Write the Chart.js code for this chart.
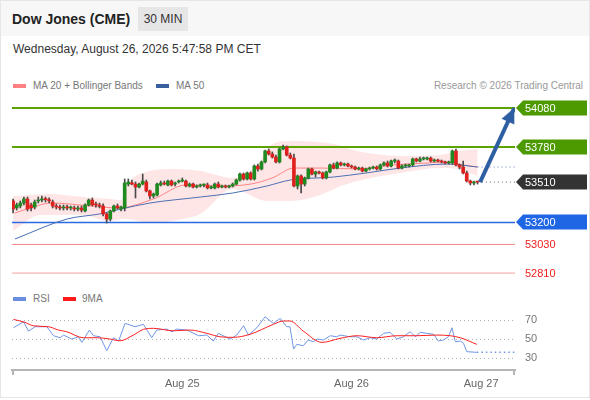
<!DOCTYPE html>
<html>
<head>
<meta charset="utf-8">
<script src="https://cdn.jsdelivr.net/npm/chart.js@4.4.1/dist/chart.umd.min.js"></script>
<style>
body { margin: 0; width: 590px; height: 400px; position: relative; overflow: hidden; background: #fff; font-family: "Liberation Sans", Arial, sans-serif; }
#frame { position: absolute; left: 0; top: 0; width: 588px; height: 396px; border: 1px solid #e6e6e6; }
#head { position: absolute; left: 1px; top: 1px; width: 588px; height: 35px; background: #f7f7f7; }
#title { position: absolute; left: 12px; top: 11px; line-height: 16px; font-size: 14px; font-weight: bold; color: #222; }
#tf { position: absolute; left: 138px; top: 7px; width: 50px; height: 24px; line-height: 24px; text-align: center; background: #e6e6e6; font-size: 12px; color: #333; }
#date { position: absolute; left: 13px; top: 42px; line-height: 14px; font-size: 12px; color: #333; }
.leg { position: absolute; font-size: 10px; line-height: 12px; color: #777; }
.sw { position: absolute; width: 13px; height: 4px; }
canvas { position: absolute; left: 0; }
</style>
</head>
<body>
<div id="frame"></div>
<div id="head"></div>
<div id="title">Dow Jones (CME)</div>
<div id="tf">30 MIN</div>
<div id="date">Wednesday, August 26, 2026 5:47:58 PM CET</div>

<div class="sw" style="left:13px;top:84px;background:#ff8080"></div>
<div class="leg" style="left:33px;top:80px">MA 20 + Bollinger Bands</div>
<div class="sw" style="left:156px;top:84px;background:#3a5f9e"></div>
<div class="leg" style="left:176px;top:80px">MA 50</div>
<div class="leg" style="right:7px;top:80px;color:#999">Research © 2026 Trading Central</div>

<div class="sw" style="left:13px;top:297px;background:#6a8fe0"></div>
<div class="leg" style="left:33px;top:293px">RSI</div>
<div class="sw" style="left:63px;top:297px;background:#ff1a1a"></div>
<div class="leg" style="left:82px;top:293px">9MA</div>

<canvas id="price" width="590" height="190" style="top:96px"></canvas>
<canvas id="rsi" width="590" height="90" style="top:305px"></canvas>

<script>
// 30 min candles, index 0 = first candle on screen
var candleOpen = [
    53365, 53311, 53326, 53349, 53380, 53334, 53318, 53365, 53372, 53380,
    53375, 53357, 53326, 53318, 53311, 53318, 53311, 53311, 53303, 53311,
    53288, 53334, 53372, 53342, 53334, 53326, 53265, 53226, 53288, 53326,
    53303, 53311, 53495, 53505, 53495, 53472, 53495, 53511, 53442, 53403,
    53411, 53488, 53503, 53488, 53518, 53495, 53511, 53518, 53518, 53480,
    53495, 53472, 53480, 53488, 53488, 53465, 53465, 53495, 53472, 53480,
    53472, 53480, 53495, 53526, 53572, 53534, 53580, 53534, 53634, 53611,
    53665, 53749, 53726, 53703, 53665, 53765, 53780, 53718, 53695, 53480,
    53557, 53495, 53542, 53611, 53572, 53588, 53580, 53542, 53588, 53642,
    53618, 53657, 53642, 53649, 53634, 53626, 53611, 53618, 53595, 53611,
    53618, 53626, 53611, 53642, 53657, 53634, 53672, 53672, 53618, 53634,
    53634, 53642, 53688, 53672, 53688, 53688, 53695, 53672, 53680, 53672,
    53665, 53657, 53657, 53749, 53642, 53626, 53580, 53518, 53503, 53511
];
var candleHigh = [
    53380, 53349, 53365, 53395, 53395, 53349, 53372, 53395, 53403, 53395,
    53388, 53372, 53342, 53334, 53334, 53334, 53326, 53326, 53326, 53326,
    53342, 53380, 53388, 53357, 53349, 53342, 53272, 53295, 53334, 53342,
    53326, 53534, 53534, 53526, 53511, 53503, 53572, 53526, 53449, 53426,
    53503, 53518, 53518, 53526, 53526, 53511, 53526, 53542, 53526, 53503,
    53503, 53488, 53495, 53495, 53503, 53480, 53503, 53511, 53488, 53488,
    53488, 53503, 53534, 53580, 53580, 53588, 53588, 53642, 53649, 53672,
    53757, 53765, 53742, 53718, 53772, 53795, 53788, 53734, 53726, 53565,
    53565, 53549, 53618, 53618, 53595, 53595, 53588, 53595, 53649, 53657,
    53665, 53665, 53657, 53657, 53642, 53634, 53626, 53626, 53618, 53626,
    53634, 53634, 53649, 53665, 53672, 53680, 53688, 53680, 53642, 53649,
    53649, 53695, 53695, 53703, 53703, 53703, 53703, 53688, 53688, 53680,
    53672, 53672, 53757, 53765, 53649, 53672, 53595, 53526, 53518, 53518
];
var candleLow = [
    53272, 53295, 53311, 53334, 53288, 53288, 53303, 53349, 53357, 53357,
    53349, 53311, 53303, 53295, 53295, 53295, 53295, 53288, 53288, 53280,
    53280, 53326, 53326, 53318, 53311, 53249, 53195, 53211, 53280, 53303,
    53288, 53288, 53480, 53488, 53388, 53465, 53488, 53434, 53380, 53388,
    53403, 53480, 53488, 53480, 53480, 53480, 53503, 53511, 53472, 53472,
    53465, 53465, 53472, 53472, 53457, 53457, 53457, 53465, 53465, 53465,
    53465, 53472, 53488, 53518, 53526, 53526, 53526, 53526, 53595, 53603,
    53657, 53718, 53695, 53657, 53657, 53757, 53711, 53688, 53472, 53457,
    53426, 53480, 53534, 53565, 53549, 53572, 53534, 53534, 53580, 53611,
    53611, 53634, 53634, 53626, 53618, 53603, 53603, 53588, 53588, 53603,
    53611, 53603, 53603, 53634, 53626, 53626, 53657, 53611, 53611, 53626,
    53626, 53634, 53665, 53665, 53680, 53680, 53665, 53665, 53665, 53657,
    53649, 53649, 53649, 53634, 53611, 53572, 53511, 53488, 53488, 53495
];
var candleClose = [
    53303, 53334, 53349, 53380, 53303, 53311, 53357, 53372, 53380, 53375,
    53365, 53326, 53318, 53311, 53318, 53311, 53311, 53303, 53311, 53295,
    53334, 53372, 53334, 53334, 53326, 53265, 53226, 53288, 53326, 53311,
    53318, 53503, 53510, 53495, 53472, 53495, 53518, 53442, 53403, 53419,
    53495, 53503, 53495, 53518, 53488, 53503, 53518, 53526, 53480, 53495,
    53472, 53480, 53488, 53488, 53465, 53465, 53495, 53472, 53480, 53472,
    53480, 53495, 53526, 53572, 53534, 53580, 53534, 53634, 53611, 53665,
    53749, 53726, 53703, 53665, 53765, 53780, 53718, 53695, 53480, 53557,
    53495, 53542, 53611, 53572, 53588, 53580, 53542, 53588, 53642, 53618,
    53657, 53642, 53649, 53634, 53626, 53611, 53618, 53595, 53611, 53618,
    53626, 53611, 53642, 53657, 53634, 53672, 53672, 53618, 53634, 53634,
    53642, 53688, 53672, 53688, 53688, 53695, 53672, 53680, 53672, 53665,
    53657, 53657, 53749, 53642, 53626, 53580, 53518, 53503, 53511, 53510
];

// indicator lines (candle index, value)
var ma20Idx = [0.5, 5.5, 10.5, 21.7, 29, 39, 48, 57.5, 66, 72, 78, 86, 96, 105.5, 115, 120.5, 125, 129];
var ma20Val = [53272, 53318, 53349, 53326, 53311, 53380, 53488, 53480, 53495, 53542, 53618, 53618, 53611, 53642, 53657, 53665, 53642, 53626];
var ma50Idx = [0.5, 15, 24, 30, 38, 52, 61, 70.5, 77, 89, 98, 107.5, 120.5, 129];
var ma50Val = [53072, 53226, 53265, 53303, 53349, 53395, 53426, 53480, 53526, 53549, 53580, 53618, 53649, 53626];
var upperIdx = [0, 10, 19.5, 27, 30, 32.5, 36, 43, 52, 61, 68, 72, 77, 89, 95.5, 107.5, 118.5, 123.5, 129];
var upperVal = [53403, 53419, 53395, 53380, 53372, 53518, 53580, 53611, 53595, 53542, 53649, 53803, 53826, 53803, 53749, 53711, 53718, 53749, 53765];
var lowerIdx = [0, 7.5, 19.5, 26, 31.5, 38, 47, 52, 61, 70.5, 77, 84.5, 91, 98, 107.5, 118.5, 123.5, 129];
var lowerVal = [53134, 53257, 53257, 53211, 53226, 53195, 53226, 53265, 53457, 53365, 53365, 53403, 53480, 53534, 53580, 53618, 53611, 53557];

var levelValues = [54080, 53780, 53510, 53200, 53030, 52810];
var arrowIdx = [129.7, 139.2];
var arrowVal = [53510, 54080];

var rsiIdx = [0.1, 2.9, 4.3, 6.1, 9.4, 11.2, 13.1, 14, 16.3, 18.1, 19.1, 21.2, 22.3, 24.2, 26, 27.9, 29.3, 31.1, 33.9, 36.2,
    38.5, 39.9, 42.7, 44.1, 45.5, 48.3, 51.5, 53.8, 55.6, 57, 60.3, 62.1, 64, 65.4, 67.7, 70, 72.3, 74.2, 76, 76.9,
    77.9, 78.8, 80.6, 82, 83.4, 84.4, 86.2, 88.1, 89.9, 90.8, 93.6, 95.5, 97.3, 99.2, 101, 102.9, 104.7, 106.6, 108.4, 110.3,
    111.7, 113.1, 114.9, 116.8, 118.1, 119.5, 120.9, 121.9, 122.8, 124.2, 125.1, 126, 128.8];
var rsiVal = [62.2, 68.5, 58.7, 63.3, 63.3, 53.8, 51.7, 54.5, 50.3, 52.7, 46.8, 59.8, 53.8, 52.7, 38, 51.7, 48.2, 66.8, 63.3, 65.8,
    51.7, 59.8, 60.8, 58, 60.8, 59.8, 53.8, 54.5, 48.2, 56.3, 50.3, 54.5, 64.3, 54.5, 62.2, 73.8, 66.8, 72.1, 63.3, 63.3,
    39.8, 44.7, 43.3, 49.3, 47.5, 50.3, 49.3, 53.8, 52.7, 54.5, 52.7, 52.7, 49.3, 51.7, 50.3, 56.3, 57.4, 50.3, 52.7, 58,
    52.7, 57.4, 56.3, 55.3, 48.2, 49.3, 52.7, 62.2, 47.5, 48.2, 45.8, 37, 36.3];
var rsi9Idx = [0.1, 3.3, 5.6, 9.8, 12.6, 14.9, 19.5, 23.3, 26.9, 29.7, 33.4, 36.2, 39, 44.5, 49.2, 53.8, 57.5, 61.2, 65.8, 72.3,
    75.1, 76.9, 80.6, 85.8, 90.8, 95.5, 101, 106.6, 112.1, 117.7, 121.4, 124.2, 128.8];
var rsi9Val = [71, 67.9, 64.3, 63.3, 59.8, 58, 51.7, 51.7, 50.3, 48.5, 54.5, 60.5, 61.6, 59, 59.8, 56.3, 52.7, 52.1, 55.3, 65.8,
    69.3, 69.3, 58.7, 46.8, 51, 53.8, 51.7, 53.8, 53.8, 54.5, 53.8, 51.7, 44.7];
var rsiTicks = [30, 50, 70];

var dateTickIdx = [47, 94, 130];
var dateTickLbl = ['Aug 25', 'Aug 26', 'Aug 27'];

// view window on the index axis
var xMin = -0.3;
var xMax = 139.4;

var levelStyle = [
    { line: '#5aa300', width: 2, tag: '#4d9a00', text: '#fff' },
    { line: '#5aa300', width: 2, tag: '#4d9a00', text: '#fff' },
    { line: null, width: 0, tag: '#333333', text: '#fff' },
    { line: '#2a6ae0', width: 1.5, tag: '#1f66e5', text: '#fff' },
    { line: '#f28a8a', width: 1, tag: null, text: '#f01c1c' },
    { line: '#f6a0a0', width: 1, tag: null, text: '#f01c1c' }
];

function pts(xs, ys) {
    return xs.map(function (x, k) { return { x: x, y: ys[k] }; });
}

var last = candleClose.length - 1;
var lastClose = candleClose[last];

var datasets = [];
datasets.push({
    type: 'line', id: 'upper', data: pts(upperIdx, upperVal),
    borderWidth: 0, borderColor: 'rgba(0,0,0,0)', pointRadius: 0,
    cubicInterpolationMode: 'monotone',
    fill: '+1', backgroundColor: 'rgba(255,150,150,0.24)', order: 20
});
datasets.push({
    type: 'line', data: pts(lowerIdx, lowerVal),
    borderWidth: 0, borderColor: 'rgba(0,0,0,0)', pointRadius: 0,
    cubicInterpolationMode: 'monotone', fill: false, order: 21
});
levelValues.forEach(function (v, k) {
    if (!levelStyle[k].line) return;
    datasets.push({
        type: 'line', data: [{ x: xMin, y: v }, { x: xMax, y: v }],
        borderColor: levelStyle[k].line, borderWidth: levelStyle[k].width,
        pointRadius: 0, fill: false, order: 15
    });
});
// dotted continuation of the last close and MA 50
datasets.push({
    type: 'line', data: [{ x: last + 1.2, y: lastClose }, { x: xMax, y: lastClose }],
    borderColor: '#666', borderWidth: 1, borderDash: [1, 3], pointRadius: 0, fill: false, order: 14
});
datasets.push({
    type: 'line', data: [{ x: ma50Idx[ma50Idx.length - 1], y: ma50Val[ma50Val.length - 1] }, { x: xMax, y: ma50Val[ma50Val.length - 1] }],
    borderColor: '#5b7fc0', borderWidth: 1, borderDash: [1, 3], pointRadius: 0, fill: false, order: 14
});
datasets.push({
    type: 'line', data: pts(ma20Idx, ma20Val), borderColor: 'rgba(255,100,100,0.75)', borderWidth: 1,
    pointRadius: 0, cubicInterpolationMode: 'monotone', fill: false, order: 5
});
datasets.push({
    type: 'line', data: pts(ma50Idx, ma50Val), borderColor: '#4a6fb3', borderWidth: 1,
    pointRadius: 0, cubicInterpolationMode: 'monotone', fill: false, order: 4
});
datasets.push({
    type: 'bar', grouped: false, barThickness: 1, order: 3,
    data: candleHigh.map(function (h, i) { return { x: i, y: [candleLow[i], h] }; }),
    backgroundColor: '#4a4a4a'
});
datasets.push({
    type: 'bar', grouped: false, barThickness: 3, minBarLength: 1, order: 2,
    data: candleOpen.map(function (o, i) { return { x: i, y: [o, candleClose[i]] }; }),
    backgroundColor: candleOpen.map(function (o, i) { return candleClose[i] >= o ? '#1f8a1f' : '#e0201c'; })
});
datasets.push({
    type: 'line', id: 'arrow', data: pts(arrowIdx, arrowVal), borderColor: '#2f5fa3', borderWidth: 4,
    pointRadius: 0, fill: false, order: 0
});

var arrowHead = {
    id: 'arrowHead',
    afterDatasetsDraw: function (chart) {
        var k = chart.data.datasets.findIndex(function (d) { return d.id === 'arrow'; });
        var p = chart.getDatasetMeta(k).data;
        var a = p[p.length - 2], b = p[p.length - 1];
        var ang = Math.atan2(b.y - a.y, b.x - a.x);
        var len = 15, half = 7;
        var ctx = chart.ctx;
        ctx.save();
        ctx.fillStyle = '#2f5fa3';
        ctx.beginPath();
        ctx.moveTo(b.x, b.y);
        ctx.lineTo(b.x - len * Math.cos(ang) + half * Math.sin(ang), b.y - len * Math.sin(ang) - half * Math.cos(ang));
        ctx.lineTo(b.x - len * Math.cos(ang) - half * Math.sin(ang), b.y - len * Math.sin(ang) + half * Math.cos(ang));
        ctx.closePath();
        ctx.fill();
        ctx.restore();
    }
};

var levelTags = {
    id: 'levelTags',
    afterDraw: function (chart) {
        var ctx = chart.ctx;
        var x0 = chart.chartArea.right;
        ctx.save();
        ctx.font = '11px "Liberation Sans", Arial, sans-serif';
        ctx.textBaseline = 'middle';
        levelValues.forEach(function (v, k) {
            var y = Math.round(chart.scales.y.getPixelForValue(v));
            var st = levelStyle[k];
            if (st.tag) {
                ctx.fillStyle = st.tag;
                ctx.beginPath();
                ctx.moveTo(x0 + 1, y);
                ctx.lineTo(x0 + 8, y - 7.5);
                ctx.lineTo(x0 + 72, y - 7.5);
                ctx.lineTo(x0 + 72, y + 7.5);
                ctx.lineTo(x0 + 8, y + 7.5);
                ctx.closePath();
                ctx.fill();
            }
            ctx.fillStyle = st.text;
            ctx.fillText(String(v), x0 + 10, y + 0.5);
        });
        ctx.restore();
    }
};

new Chart(document.getElementById('price'), {
    type: 'bar',
    data: { datasets: datasets },
    options: {
        responsive: false,
        animation: false,
        layout: { autoPadding: false, padding: { left: 12, right: 75, top: 5, bottom: 5 } },
        plugins: { legend: { display: false }, tooltip: { enabled: false } },
        scales: {
            x: { type: 'linear', min: xMin, max: xMax, offset: false, display: false },
            y: { type: 'linear', min: 52749, max: 54134, display: false }
        }
    },
    plugins: [arrowHead, levelTags]
});

var axisCaps = {
    id: 'axisCaps',
    afterDraw: function (chart) {
        var ctx = chart.ctx, a = chart.chartArea;
        ctx.save();
        ctx.strokeStyle = '#b5b5b5';
        ctx.lineWidth = 2;
        ctx.beginPath();
        ctx.moveTo(a.left + 1, a.bottom);
        ctx.lineTo(a.left + 1, a.bottom + 5);
        ctx.moveTo(a.right - 1, a.bottom);
        ctx.lineTo(a.right - 1, a.bottom + 5);
        ctx.stroke();
        ctx.restore();
    }
};

new Chart(document.getElementById('rsi'), {
    type: 'line',
    data: {
        datasets: [
            {
                data: pts(rsi9Idx, rsi9Val), borderColor: '#ff2020', borderWidth: 1,
                pointRadius: 0, cubicInterpolationMode: 'monotone', fill: false
            },
            {
                data: pts(rsiIdx, rsiVal), borderColor: '#7196e6', borderWidth: 1,
                pointRadius: 0, tension: 0, fill: false
            },
            {
                data: [{ x: rsiIdx[rsiIdx.length - 1], y: rsiVal[rsiVal.length - 1] }, { x: xMax, y: rsiVal[rsiVal.length - 1] }],
                borderColor: '#7196e6', borderWidth: 1.5, borderDash: [1.5, 3], pointRadius: 0, fill: false
            }
        ]
    },
    options: {
        responsive: false,
        animation: false,
        layout: { autoPadding: false, padding: { left: 12, right: 0, top: 7, bottom: 0 } },
        plugins: { legend: { display: false }, tooltip: { enabled: false } },
        scales: {
            x: {
                type: 'linear', min: xMin, max: xMax,
                afterFit: function (s) { s.height = 25; },
                afterBuildTicks: function (s) { s.ticks = dateTickIdx.map(function (v) { return { value: v }; }); },
                ticks: {
                    color: '#666', padding: 7, maxRotation: 0, autoSkip: false,
                    font: { size: 11, family: '"Liberation Sans", Arial, sans-serif' },
                    callback: function (v) { return dateTickLbl[dateTickIdx.indexOf(v)]; }
                },
                grid: { display: false, drawTicks: false },
                border: { display: true, color: '#b5b5b5', width: 2 }
            },
            y: {
                position: 'right', min: 17.7, max: 78.8,
                afterFit: function (s) { s.width = 75; },
                afterBuildTicks: function (s) { s.ticks = rsiTicks.map(function (v) { return { value: v }; }); },
                ticks: {
                    color: '#777', padding: 0,
                    font: { size: 11, family: '"Liberation Sans", Arial, sans-serif' }
                },
                grid: { color: '#b0b0b0', drawTicks: true, tickLength: 10, tickColor: 'rgba(0,0,0,0)', lineWidth: 1 },
                border: { display: false, dash: [1, 3] }
            }
        }
    },
    plugins: [axisCaps]
});
</script>
</body>
</html>
